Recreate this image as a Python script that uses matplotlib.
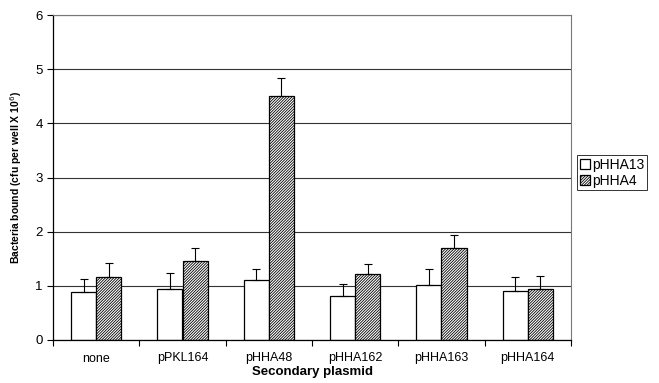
import numpy as np
import matplotlib
matplotlib.use("Agg")
import matplotlib.pyplot as plt

plt.rcParams['font.family'] = ['Liberation Sans', 'DejaVu Sans']
plt.rcParams['hatch.linewidth'] = 0.6

categories = ['none', 'pPKL164', 'pHHA48', 'pHHA162', 'pHHA163', 'pHHA164']
phha13 = [0.88, 0.95, 1.10, 0.81, 1.01, 0.90]
phha13_err = [0.24, 0.28, 0.21, 0.22, 0.30, 0.26]
phha4 = [1.16, 1.45, 4.50, 1.21, 1.70, 0.95]
phha4_err = [0.27, 0.24, 0.34, 0.19, 0.24, 0.23]

fig = plt.figure(figsize=(6.59, 3.83), dpi=100)
ax = fig.add_axes([53/659, 1 - 340/383, 518/659, 325/383])

x = np.arange(len(categories))
w = 0.29

ax.set_axisbelow(True)
ax.yaxis.grid(True, color='#333333', linewidth=0.8)

ax.bar(x - w/2, phha13, w, color='white', edgecolor='black', linewidth=0.9,
       label='pHHA13', zorder=2)
ax.bar(x + w/2, phha4, w, color='white', edgecolor='black', linewidth=0.9,
       hatch='////////////', label='pHHA4', zorder=2)
ax.errorbar(x - w/2, phha13, yerr=[np.zeros(6), phha13_err], fmt='none',
            ecolor='black', elinewidth=0.8, capsize=3, capthick=0.8, zorder=3)
ax.errorbar(x + w/2, phha4, yerr=[np.zeros(6), phha4_err], fmt='none',
            ecolor='black', elinewidth=0.8, capsize=3, capthick=0.8, zorder=3)

ax.set_xlim(-0.5, len(categories) - 0.5)
ax.set_ylim(0, 6)
ax.set_yticks(range(0, 7))
ax.set_xticks(x)
ax.set_xticklabels(categories, fontsize=9)
ax.set_xticks(np.arange(-0.5, len(categories)), minor=True)
ax.tick_params(axis='x', which='major', length=0, pad=9)
ax.tick_params(axis='x', which='minor', length=4, direction='out', width=0.8)
ax.tick_params(axis='y', labelsize=9.5, length=4, width=0.8)

ax.spines['top'].set_color('#777777')
ax.spines['right'].set_color('#777777')
ax.spines['left'].set_linewidth(0.9)
ax.spines['bottom'].set_linewidth(0.9)

ax.set_ylabel('Bacteria bound (cfu per well X 10$^6$)', fontsize=7.5,
              fontweight='bold', labelpad=8)
ax.set_xlabel('Secondary plasmid', fontsize=9.5, fontweight='bold', labelpad=1)

leg = ax.legend(loc='center left', bbox_to_anchor=(1.012, 0.515), fontsize=10,
                frameon=True, fancybox=False, edgecolor='black',
                handlelength=0.7, handleheight=0.7, handletextpad=0.15,
                borderpad=0.2, labelspacing=0.15, borderaxespad=0)
leg.get_frame().set_linewidth(0.7)

fig.savefig('out.png', dpi=100)
